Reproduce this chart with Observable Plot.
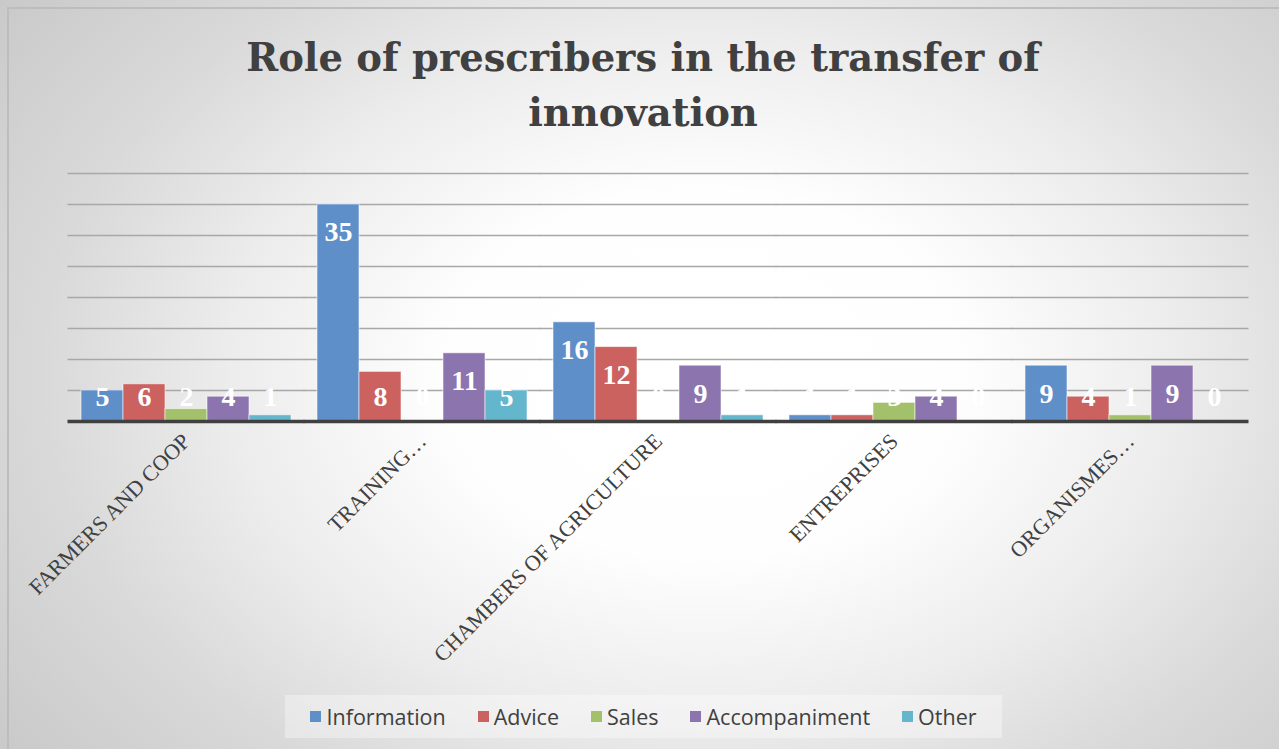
<!DOCTYPE html>
<html>
<head>
<meta charset="utf-8">
<script src="https://cdn.jsdelivr.net/npm/d3@7"></script>
<script src="https://cdn.jsdelivr.net/npm/@observablehq/plot@0.6"></script>
<style>
html, body { margin: 0; padding: 0; }
#wrap {
  position: relative; width: 1279px; height: 749px; overflow: hidden;
  background: radial-gradient(ellipse 72% 88% at 55% 50%, #ffffff 0%, #fefefe 28%, #ececec 52%, #d9d9d9 72%, #c6c6c6 100%);
}
#frame {
  position: absolute; left: 7px; top: 7px; right: -4px; bottom: -4px;
  border-left: 2px solid #bdbdbd; border-top: 2px solid #bdbdbd;
}
#title {
  position: absolute; left: 0; top: 30px; width: 1286px; text-align: center;
  font-family: "DejaVu Serif", serif; font-weight: bold; font-size: 38.5px;
  line-height: 55px; color: #404040;
}
#chart { position: absolute; left: 0; top: 150px; }
#legend {
  position: absolute; left: 285px; top: 695px; width: 717px; height: 43px;
  background: rgba(255,255,255,0.35);
  display: flex; align-items: center; justify-content: center; gap: 32px;
  font-family: "Open Sans", sans-serif; font-size: 21.5px; color: #404040;
}
.item { display: flex; align-items: center; }
.sw { width: 11px; height: 11px; margin-right: 5px; }
</style>
</head>
<body>
<div id="wrap">
  <div id="frame"></div>
  <div id="title">Role of prescribers in the transfer of<br>innovation</div>
  <div id="chart"></div>
  <div id="legend"></div>
</div>
<script>
const categories = ["FARMERS AND COOP", "TRAINING…", "CHAMBERS OF AGRICULTURE", "ENTREPRISES", "ORGANISMES…"];
const series = ["Information", "Advice", "Sales", "Accompaniment", "Other"];
const information = [5, 35, 16, 1, 9];
const advice = [6, 8, 12, 1, 4];
const sales = [2, 0, 0, 3, 1];
const accompaniment = [4, 11, 9, 4, 9];
const other = [1, 5, 1, 0, 0];
const colors = ["#5f8fc9", "#cb625f", "#a3c16a", "#8c74ae", "#64b6cc"];
const gridTicks = [5, 10, 15, 20, 25, 30, 35, 40];

const seriesValues = [information, advice, sales, accompaniment, other];
const rows = [];
categories.forEach((c, i) => {
  series.forEach((s, j) => {
    rows.push({category: c, series: s, value: seriesValues[j][i]});
  });
});

const chart = Plot.plot({
  width: 1279,
  height: 540,
  marginTop: 23,
  marginBottom: 269,
  marginLeft: 67,
  marginRight: 29,
  style: {background: "transparent", overflow: "visible"},
  fx: {domain: categories, paddingInner: 0.11, paddingOuter: 0.055, label: null},
  x: {domain: series, padding: 0, axis: null},
  y: {domain: [0, 40], axis: null},
  color: {domain: series, range: colors},
  marks: [
    Plot.ruleY(gridTicks, {stroke: "#a8a8a8", strokeWidth: 1.5, insetLeft: -13.5, insetRight: -13.5}),
    Plot.barY(rows, {fx: "category", x: "series", y: "value", fill: "series", stroke: "#ffffff", strokeOpacity: 0.55, strokeWidth: 1}),
    Plot.text(rows, {
      fx: "category", x: "series",
      y: d => Math.max(d.value - 4.5, 3.9),
      text: d => String(d.value),
      fill: "white", fontSize: 28, fontWeight: "bold", fontFamily: "Liberation Serif"
    }),
    Plot.ruleY([0], {stroke: "#404040", strokeWidth: 3.5, insetLeft: -13.5, insetRight: -13.5}),
    Plot.axisFx({anchor: "bottom", tickRotate: -45, tickSize: 0, tickPadding: 16, fontSize: 22, fontFamily: "Liberation Serif", fill: "#404040", label: null})
  ]
});
document.getElementById("chart").appendChild(chart);

const legend = document.getElementById("legend");
series.forEach((s, i) => {
  const item = document.createElement("div");
  item.className = "item";
  const sw = document.createElement("span");
  sw.className = "sw";
  sw.style.background = colors[i];
  const t = document.createElement("span");
  t.textContent = s;
  item.appendChild(sw);
  item.appendChild(t);
  legend.appendChild(item);
});
</script>
</body>
</html>
